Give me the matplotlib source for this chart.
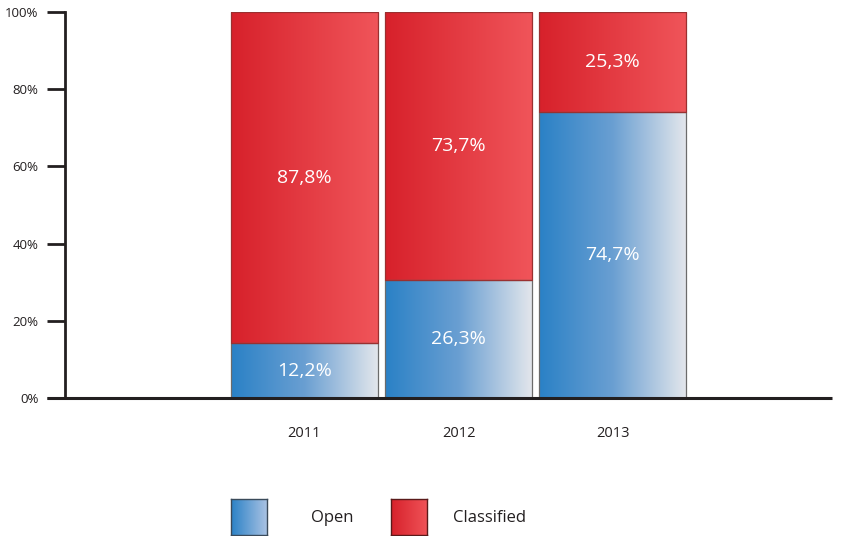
import matplotlib
matplotlib.use("Agg")
import matplotlib.pyplot as plt
import numpy as np
from matplotlib.colors import LinearSegmentedColormap
from matplotlib.patches import Rectangle

plt.rcParams['font.family'] = ['Open Sans', 'DejaVu Sans']

# ---- data ----
years = ['2011', '2012', '2013']
open_share = [14.2, 30.6, 74.1]          # drawn bar heights (% of column)
open_labels = ['12,2%', '26,3%', '74,7%']
classified_labels = ['87,8%', '73,7%', '25,3%']
series_names = ['Open', 'Classified']
yticks = [0, 20, 40, 60, 80, 100]
ytick_labels = ['0%', '20%', '40%', '60%', '80%', '100%']

blue_cmap = LinearSegmentedColormap.from_list('blue', ['#2a81c6', '#6a9fd2', '#e4e7ec'])
red_cmap = LinearSegmentedColormap.from_list('red', ['#d7212b', '#f0555a'])
blue_leg = LinearSegmentedColormap.from_list('bl', ['#2a81c6', '#a9c2e3'])
red_leg = LinearSegmentedColormap.from_list('rl', ['#d7212b', '#ef5257'])

W, H = 847, 536
fig = plt.figure(figsize=(W / 100, H / 100), dpi=100)
ax = fig.add_axes([65 / W, 1 - 398 / H, (832 - 65) / W, (398 - 12) / H])

x = np.arange(len(years))
width = 0.955
grad = np.linspace(0, 1, 256).reshape(1, -1)
axis_col = '#231f20'


def grad_bar(ax, xc, y0, y1, cmap, edge):
    ax.imshow(grad, cmap=cmap, aspect='auto', interpolation='bicubic',
              extent=[xc - width / 2, xc + width / 2, y0, y1], zorder=2)
    ax.add_patch(Rectangle((xc - width / 2, y0), width, y1 - y0, fill=False,
                           edgecolor=edge, lw=0.9, zorder=3))


for i in range(len(years)):
    o = open_share[i]
    grad_bar(ax, x[i], 0, o, blue_cmap, '#6b6b6b')
    grad_bar(ax, x[i], o, 100, red_cmap, '#9a3030')
    ax.text(x[i], o / 2, open_labels[i], ha='center', va='center',
            color='white', fontsize=14, zorder=4)
    ax.text(x[i], (o + 100) / 2, classified_labels[i], ha='center', va='center',
            color='white', fontsize=14, zorder=4)

ax.set_xlim(-1.555, 3.425)
ax.set_ylim(0, 100)
ax.set_xticks(x)
ax.set_xticklabels(years, fontsize=10.5, color=axis_col)
ax.set_yticks(yticks)
ax.set_yticklabels(ytick_labels, fontsize=9.5, color=axis_col)
ax.tick_params(axis='x', length=0, pad=20)
ax.tick_params(axis='y', length=13, width=2, color=axis_col, pad=6)

for s in ['top', 'right', 'bottom']:
    ax.spines[s].set_visible(False)
ax.spines['left'].set_linewidth(2)
ax.spines['left'].set_color(axis_col)
ax.plot([-18 / 767, 1], [0, 0], transform=ax.transAxes, color=axis_col,
        lw=2.2, clip_on=False, zorder=5, solid_capstyle='butt')

# ---- legend ----
leg_specs = [(231, blue_leg, '#3a4a5a', 311), (391, red_leg, '#5a1a1a', 453)]
for (lx, cmap, ec, tx), name in zip(leg_specs, series_names):
    lax = fig.add_axes([lx / W, 1 - 535 / H, 36 / W, 36 / H])
    lax.imshow(grad, cmap=cmap, aspect='auto', extent=[0, 1, 0, 1])
    lax.set_xticks([])
    lax.set_yticks([])
    for sp in lax.spines.values():
        sp.set_color(ec)
        sp.set_linewidth(1.0)
    fig.text(tx / W, 1 - 518 / H, name, ha='left', va='center',
             fontsize=12, color=axis_col)

fig.savefig('out.png', dpi=100)
